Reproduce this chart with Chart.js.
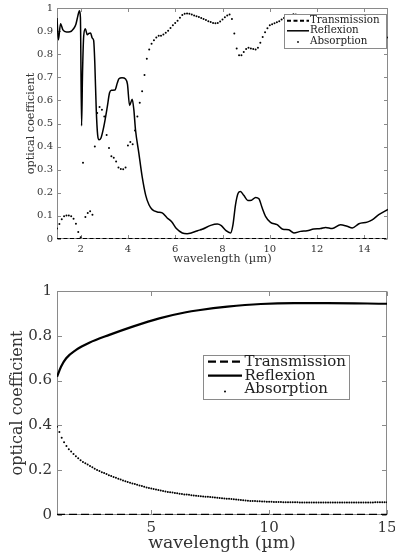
<!DOCTYPE html>
<html><head><meta charset="utf-8">
<script src="https://cdn.jsdelivr.net/npm/chart.js@4/dist/chart.umd.min.js"></script>
<style>
html,body{margin:0;padding:0;background:#fff;width:395px;height:558px;overflow:hidden;}
#c1{position:absolute;left:0;top:0;}
#c2{position:absolute;left:0;top:268px;}
</style></head><body>
<canvas id="c1" width="395" height="268"></canvas>
<canvas id="c2" width="395" height="290"></canvas>
<script>
// ---------- data ----------
const seriesNames = ['Transmission', 'Reflexion', 'Absorption'];
const axisTitleX = 'wavelength (µm)';
const axisTitleY = 'optical coefficient';

const wavelengthGrid = [
1,1.1,1.2,1.3,1.4,1.5,1.6,1.7,1.8,1.9,
2,2.1,2.2,2.3,2.4,2.5,2.6,2.7,2.8,2.9,
3,3.1,3.2,3.3,3.4,3.5,3.6,3.7,3.8,3.9,
4,4.1,4.2,4.3,4.4,4.5,4.6,4.7,4.8,4.9,
5,5.1,5.2,5.3,5.4,5.5,5.6,5.7,5.8,5.9,
6,6.1,6.2,6.3,6.4,6.5,6.6,6.7,6.8,6.9,
7,7.1,7.2,7.3,7.4,7.5,7.6,7.7,7.8,7.9,
8,8.1,8.2,8.3,8.4,8.5,8.6,8.7,8.8,8.9,
9,9.1,9.2,9.3,9.4,9.5,9.6,9.7,9.8,9.9,
10,10.1,10.2,10.3,10.4,10.5,10.6,10.7,10.8,10.9,
11,11.1,11.2,11.3,11.4,11.5,11.6,11.7,11.8,11.9,
12,12.1,12.2,12.3,12.4,12.5,12.6,12.7,12.8,12.9,
13,13.1,13.2,13.3,13.4,13.5,13.6,13.7,13.8,13.9,
14,14.1,14.2,14.3,14.4,14.5,14.6,14.7,14.8,14.9,
15];

// top chart
const topAbsorption = [
0.045,0.065,0.085,0.098,0.102,0.102,0.098,0.088,0.066,0.03,
0.008,0.33,0.095,0.113,0.12,0.105,0.4,0.545,0.571,0.56,
0.53,0.45,0.394,0.358,0.352,0.335,0.31,0.303,0.302,0.31,
0.405,0.42,0.41,0.47,0.53,0.59,0.64,0.71,0.78,0.82,
0.845,0.86,0.872,0.88,0.88,0.885,0.893,0.902,0.913,0.925,
0.935,0.945,0.958,0.97,0.975,0.976,0.975,0.972,0.968,0.964,
0.961,0.957,0.952,0.948,0.943,0.939,0.935,0.934,0.935,0.942,
0.95,0.96,0.968,0.972,0.952,0.89,0.825,0.795,0.795,0.81,
0.822,0.828,0.825,0.822,0.82,0.828,0.85,0.875,0.895,0.912,
0.925,0.93,0.934,0.938,0.943,0.95,0.957,0.96,0.96,0.965,
0.973,0.972,0.969,0.967,0.966,0.965,0.964,0.962,0.958,0.957,
0.956,0.955,0.954,0.951,0.95,0.953,0.955,0.953,0.948,0.942,
0.938,0.94,0.944,0.946,0.949,0.951,0.946,0.938,0.934,0.932,
0.93,0.927,0.924,0.918,0.91,0.903,0.895,0.888,0.882,0.876,
0.872];

const topReflexionWavelength = [
1,1.06,1.15,1.25,1.4,1.55,1.7,1.8,1.88,1.95,
1.99,2.04,2.08,2.13,2.2,2.28,2.35,2.42,2.49,2.55,
2.6,2.66,2.72,2.78,2.85,2.98,3.13,3.22,3.3,3.45,
3.55,3.62,3.75,3.9,3.98,4.07,4.18,4.25,4.32,4.46,
4.6,4.75,4.89,5.03,5.24,5.45,5.66,5.85,6.05,6.3,
6.5,6.7,6.95,7.14,7.5,7.78,7.95,8.15,8.34,8.44,
8.55,8.66,8.76,8.9,9.07,9.23,9.4,9.54,9.68,9.82,
10.03,10.31,10.55,10.8,11.02,11.3,11.58,11.86,12.15,12.36,
12.64,12.99,13.27,13.49,13.77,14.12,14.33,14.61,15];
const topReflexion = [
0.957,0.862,0.932,0.905,0.896,0.897,0.91,0.93,0.965,0.988,
0.96,0.49,0.72,0.88,0.91,0.884,0.89,0.892,0.87,0.86,
0.76,0.56,0.45,0.43,0.435,0.487,0.574,0.632,0.644,0.645,
0.675,0.694,0.698,0.693,0.67,0.578,0.605,0.56,0.473,0.373,
0.271,0.19,0.148,0.127,0.117,0.113,0.091,0.075,0.045,0.026,
0.023,0.027,0.036,0.042,0.059,0.065,0.058,0.036,0.026,0.06,
0.148,0.198,0.206,0.189,0.167,0.168,0.18,0.174,0.134,0.098,
0.072,0.062,0.042,0.04,0.026,0.033,0.036,0.043,0.045,0.05,
0.045,0.062,0.055,0.048,0.066,0.073,0.083,0.105,0.128];

const transmissionWavelength = [1, 15];
const transmission = [0, 0];

// bottom chart
const bottomReflexionWavelength = [1,1.17,1.39,1.81,2.37,3.22,4.21,5.34,6.47,7,8.23,9.65,11.06,12.47,15];
const bottomReflexion = [0.617,0.662,0.7,0.737,0.769,0.804,0.841,0.878,0.905,0.914,0.93,0.942,0.946,0.946,0.943];
const bottomAbsorption = [
0.394,0.37,0.345,0.325,0.308,0.294,0.283,0.272,0.262,0.253,
0.244,0.237,0.231,0.225,0.219,0.213,0.207,0.201,0.196,0.191,
0.187,0.183,0.178,0.174,0.17,0.166,0.162,0.158,0.154,0.151,
0.147,0.144,0.141,0.138,0.135,0.132,0.129,0.126,0.123,0.121,
0.118,0.116,0.114,0.112,0.109,0.107,0.105,0.103,0.102,0.1,
0.098,0.097,0.095,0.094,0.092,0.091,0.09,0.088,0.087,0.086,
0.085,0.084,0.083,0.082,0.081,0.08,0.079,0.078,0.077,0.076,
0.075,0.074,0.073,0.072,0.071,0.07,0.069,0.068,0.067,0.066,
0.065,0.064,0.063,0.062,0.062,0.061,0.061,0.06,0.06,0.059,
0.059,0.059,0.058,0.058,0.058,0.058,0.057,0.057,0.057,0.057,
0.057,0.057,0.057,0.056,0.056,0.056,0.056,0.056,0.056,0.056,
0.056,0.056,0.056,0.056,0.056,0.056,0.056,0.056,0.056,0.056,
0.056,0.056,0.056,0.056,0.056,0.056,0.056,0.056,0.056,0.056,
0.056,0.056,0.056,0.056,0.056,0.057,0.057,0.057,0.057,0.057,
0.057];

// ticks
const topXTicks = [2,4,6,8,10,12,14];
const topYTicks = [0,0.1,0.2,0.3,0.4,0.5,0.6,0.7,0.8,0.9,1];
const topYTickLabels = ['0','0.1','0.2','0.3','0.4','0.5','0.6','0.7','0.8','0.9','1'];
const bottomXTicks = [5,10,15];
const bottomYTicks = [0,0.2,0.4,0.6,0.8,1];
const bottomYTickLabels = ['0','0.2','0.4','0.6','0.8','1'];

// ---------- helpers ----------
function pts(xs, ys) { return xs.map((x, i) => ({x: x, y: ys[i]})); }
const FONT = '"DejaVu Serif", serif';
const TEXT = '#333';
const FRAME = '#8a8a8a';
Chart.defaults.font.family = FONT;

function framePlugin(tickLen) {
  return {
    id: 'frame',
    beforeDatasetsDraw(chart) {
      const {ctx, chartArea: a, scales: {x, y}} = chart;
      ctx.save();
      ctx.strokeStyle = FRAME; ctx.lineWidth = 1;
      const L = Math.round(a.left) + 0.5, R = Math.round(a.right) - 0.5;
      const T = Math.round(a.top) + 0.5, B = Math.round(a.bottom) - 0.5;
      ctx.strokeRect(L, T, R - L, B - T);
      ctx.beginPath();
      x.ticks.forEach(t => {
        const p = Math.round(x.getPixelForValue(t.value)) + 0.5;
        ctx.moveTo(p, B); ctx.lineTo(p, B - tickLen);
        ctx.moveTo(p, T); ctx.lineTo(p, T + tickLen);
      });
      y.ticks.forEach(t => {
        const p = Math.round(y.getPixelForValue(t.value)) + 0.5;
        ctx.moveTo(L, p); ctx.lineTo(L + tickLen, p);
        ctx.moveTo(R, p); ctx.lineTo(R - tickLen, p);
      });
      ctx.stroke();
      ctx.restore();
    }
  };
}

function legendPlugin(cfg) {
  return {
    id: 'boxLegend',
    afterDatasetsDraw(chart) {
      const ctx = chart.ctx;
      ctx.save();
      ctx.fillStyle = '#fff';
      ctx.fillRect(cfg.left, cfg.top, cfg.width, cfg.height);
      ctx.strokeStyle = FRAME; ctx.lineWidth = 1;
      ctx.strokeRect(cfg.left + 0.5, cfg.top + 0.5, cfg.width, cfg.height);
      ctx.font = cfg.fontSize + 'px ' + FONT;
      ctx.textBaseline = 'middle'; ctx.textAlign = 'left';
      chart.data.datasets.forEach((ds, i) => {
        const yy = cfg.rows[i];
        ctx.strokeStyle = '#000'; ctx.fillStyle = '#000';
        if (ds.showLine === false) {
          ctx.beginPath();
          ctx.arc((cfg.sampleX0 + cfg.sampleX1) / 2, yy + cfg.dotDy, cfg.dotR, 0, Math.PI * 2);
          ctx.fill();
        } else {
          ctx.lineWidth = ds.borderWidth;
          ctx.setLineDash(ds.borderDash || []);
          ctx.beginPath();
          ctx.moveTo(cfg.sampleX0, yy); ctx.lineTo(cfg.sampleX1, yy);
          ctx.stroke();
          ctx.setLineDash([]);
        }
        ctx.fillStyle = '#222';
        ctx.fillText(ds.label, cfg.textX, yy);
      });
      ctx.restore();
    }
  };
}

function makeScales(o) {
  return {
    x: {
      type: 'linear', min: 1, max: 15,
      grid: {display: false, drawTicks: false}, border: {display: false},
      afterBuildTicks: s => { s.ticks = o.xTicks.map(v => ({value: v})); },
      afterFit: s => { s.height = o.xHeight; s.paddingLeft = 0; s.paddingRight = 0; },
      ticks: {autoSkip: false, maxRotation: 0, color: TEXT, padding: o.xTickPad,
              font: {size: o.tickSize}, callback: (v) => String(v)},
      title: {display: true, text: axisTitleX, color: TEXT, font: {size: o.xTitleSize},
              padding: {top: 0, bottom: o.xTitlePad}}
    },
    y: {
      type: 'linear', min: 0, max: 1,
      grid: {display: false, drawTicks: false}, border: {display: false},
      afterBuildTicks: s => { s.ticks = o.yTicks.map(v => ({value: v})); },
      afterFit: s => { s.width = o.yWidth; s.paddingTop = 0; s.paddingBottom = 0; },
      ticks: {autoSkip: false, color: TEXT, padding: o.yTickPad,
              font: {size: o.tickSize}, callback: (v, i) => o.yLabels[i]},
      title: {display: true, text: axisTitleY, color: TEXT, font: {size: o.yTitleSize},
              padding: {top: o.yTitlePad, bottom: 0}}
    }
  };
}

// ---------- top chart ----------
new Chart(document.getElementById('c1'), {
  type: 'line',
  data: {
    datasets: [
      {label: seriesNames[0], data: pts(transmissionWavelength, transmission), borderColor: '#000',
       borderWidth: 2, borderDash: [4, 2.5], pointRadius: 0, fill: false},
      {label: seriesNames[1], data: pts(topReflexionWavelength, topReflexion), borderColor: '#000',
       borderWidth: 1.5, pointRadius: 0, cubicInterpolationMode: 'monotone', fill: false},
      {label: seriesNames[2], data: pts(wavelengthGrid, topAbsorption), showLine: false,
       pointRadius: 1.0, pointBorderWidth: 0, pointBackgroundColor: '#000', borderColor: '#000'}
    ]
  },
  options: {
    responsive: false, animation: false, events: [],
    layout: {padding: {left: 0, right: 7, top: 8, bottom: 0}},
    plugins: {legend: {display: false}, tooltip: {enabled: false}},
    scales: makeScales({xTicks: topXTicks, yTicks: topYTicks, yLabels: topYTickLabels,
      xHeight: 29, yWidth: 57, tickSize: 10, xTickPad: 4, yTickPad: 4,
      xTitleSize: 11.5, xTitlePad: 2.5, yTitleSize: 11.2, yTitlePad: 24})
  },
  plugins: [framePlugin(3.5), legendPlugin({left: 284, top: 14, width: 102, height: 34,
    rows: [20.7, 30.8, 41], sampleX0: 287, sampleX1: 309, textX: 310, fontSize: 10.3,
    dotR: 0.9, dotDy: 1})]
});

// ---------- bottom chart ----------
new Chart(document.getElementById('c2'), {
  type: 'line',
  data: {
    datasets: [
      {label: seriesNames[0], data: pts(transmissionWavelength, transmission), borderColor: '#000',
       borderWidth: 2.3, borderDash: [8, 4], pointRadius: 0, fill: false},
      {label: seriesNames[1], data: pts(bottomReflexionWavelength, bottomReflexion), borderColor: '#000',
       borderWidth: 2.2, pointRadius: 0, cubicInterpolationMode: 'monotone', fill: false},
      {label: seriesNames[2], data: pts(wavelengthGrid, bottomAbsorption), showLine: false,
       pointRadius: 1.0, pointBorderWidth: 0, pointBackgroundColor: '#000', borderColor: '#000'}
    ]
  },
  options: {
    responsive: false, animation: false, events: [],
    layout: {padding: {left: 0, right: 8, top: 23, bottom: 0}},
    plugins: {legend: {display: false}, tooltip: {enabled: false}},
    scales: makeScales({xTicks: bottomXTicks, yTicks: bottomYTicks, yLabels: bottomYTickLabels,
      xHeight: 43, yWidth: 57, tickSize: 15, xTickPad: 4, yTickPad: 5,
      xTitleSize: 17.3, xTitlePad: 4, yTitleSize: 16, yTitlePad: 8})
  },
  plugins: [framePlugin(4.5), legendPlugin({left: 203, top: 87, width: 146, height: 44,
    rows: [93.7, 107.7, 121], sampleX0: 208, sampleX1: 242, textX: 244.5, fontSize: 15,
    dotR: 1, dotDy: 2.5})]
});
</script>
</body></html>
